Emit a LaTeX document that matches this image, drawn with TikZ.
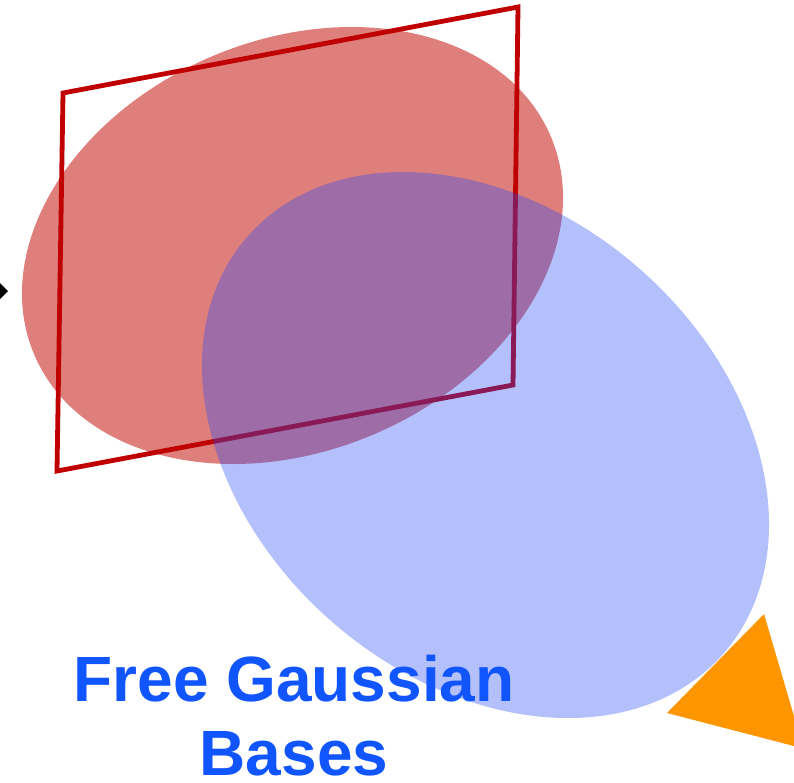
\documentclass[tikz,border=0pt]{standalone}
\usepackage{fontspec}
\setmainfont{Liberation Sans}
\definecolor{redfill}{RGB}{222,127,124}
\definecolor{framered}{RGB}{192,0,0}
\definecolor{bluebase}{RGB}{40,75,245}
\definecolor{orangefill}{RGB}{255,150,0}
\definecolor{textblue}{RGB}{17,85,255}
\tikzset{
  redblob/.style={fill=redfill},
  blueblob/.style={fill=bluebase, fill opacity=0.35},
  frameline/.style={draw=framered, line width=4.8pt},
  labeltext/.style={text=textblue, font=\bfseries\fontsize{64}{74}\selectfont, align=center, inner sep=0pt}
}
\begin{document}
\begin{tikzpicture}[x=1pt,y=-1pt]
\useasboundingbox (0,0) rectangle (794,782);
\clip (0,0) rectangle (794,782);
% red ellipse
\fill[redblob, rotate around={22.8:(292.5,245.5)}] (292.5,245.5) ellipse [x radius=280.4pt, y radius=205.6pt];
% frame
\coordinate (f1) at (63,93);
\coordinate (f2) at (518,7);
\coordinate (f3) at (513,385);
\coordinate (f4) at (57,471);
\draw[frameline] (f1) -- (f2) -- (f3) -- (f4) -- cycle;
% blue ellipse
\fill[blueblob, rotate around={-41.3:(485.5,445)}] (485.5,445) ellipse [x radius=316.4pt, y radius=234.1pt];
% orange triangle
\fill[orangefill] (764,614) -- (667,713) -- (803.5,748.5) -- cycle;
% black arrow tip at left edge
\fill[black] (-6,277) -- (8,291) -- (-6,305) -- cycle;
% label
\node[labeltext, anchor=base] (label) at (294,775) {Free Gaussian\\Bases};
\end{tikzpicture}
\end{document}
